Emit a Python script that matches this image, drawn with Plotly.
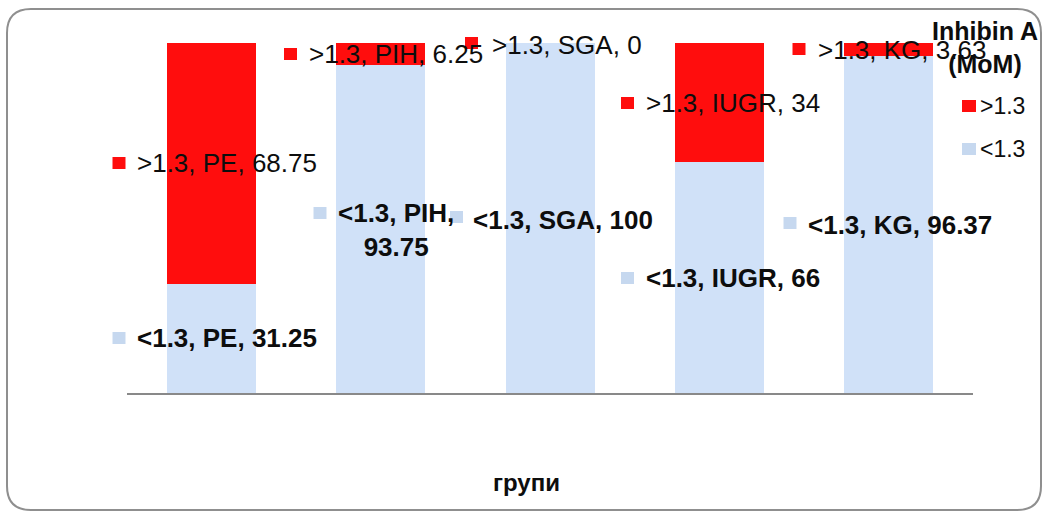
import plotly.graph_objects as go

# ---- data ----
categories = ["PE", "PIH", "SGA", "IUGR", "KG"]
below_13 = [31.25, 93.75, 100, 66, 96.37]
above_13 = [68.75, 6.25, 0, 34, 3.63]
series_names = ["<1.3", ">1.3"]
legend_title = "Inhibin A<br>(MoM)"
x_title = "групи"

# ---- layout constants (pixels) ----
W, H = 1044, 513
L, R, T, B = 127, 71, 43, 120
PW = W - L - R
PH = H - T - B
BASE_Y = H - B

RED = "#FF0D0D"
BLUE = "#D0E1F8"
BLUE_KEY = "#C6D8EF"
FONT = "Arial, 'Liberation Sans', sans-serif"
FS = 26
TXT = "#0d0d0d"

# label placements: (square cx, square cy, text x, text y, xanchor)
above_pos = [
    (119, 163, 137, 163, "left"),
    (290.5, 54, 309, 54, "left"),
    (471.5, 43, 492, 45, "left"),
    (627.5, 103, 646, 103, "left"),
    (799, 49, 818, 50, "left"),
]
below_pos = [
    (119, 338, 137, 338, "left"),
    (320, 213, 396, 230, "center"),
    (456.5, 217, 473, 220, "left"),
    (627.5, 278, 646, 278, "left"),
    (790, 223, 808, 225, "left"),
]


def esc(s):
    return s.replace("<", "&lt;").replace(">", "&gt;")


def cat_center(i):
    return L + PW * (i + 0.5) / len(categories)


fig = go.Figure()
fig.add_trace(go.Bar(x=categories, y=below_13, name=series_names[0],
                     marker=dict(color=BLUE, line=dict(width=0)),
                     showlegend=False, hoverinfo="x+y+name"))
fig.add_trace(go.Bar(x=categories, y=above_13, name=series_names[1],
                     marker=dict(color=RED, line=dict(width=0)),
                     showlegend=False, hoverinfo="x+y+name"))

annotations = []
shapes = []


def px_to_paper(px, py):
    return (px - L) / PW, (BASE_Y - py) / PH


def P(px, py):
    a, b = px_to_paper(px, py)
    return f"{a:.5f},{b:.5f}"


# rounded border around the chart
x0, x1, y0, y1, r = 7, 1041, 9, 510, 24
path = (f"M{P(x0 + r, y0)} L{P(x1 - r, y0)} Q{P(x1, y0)} {P(x1, y0 + r)} "
        f"L{P(x1, y1 - r)} Q{P(x1, y1)} {P(x1 - r, y1)} "
        f"L{P(x0 + r, y1)} Q{P(x0, y1)} {P(x0, y1 - r)} "
        f"L{P(x0, y0 + r)} Q{P(x0, y0)} {P(x0 + r, y0)} Z")
shapes.append(dict(type="path", xref="paper", yref="paper", path=path,
                   line=dict(color="#8f8f8f", width=2), layer="below"))


def add_label(i, name, val, pos, key_color, bold):
    sx, sy, tx, ty, xa = pos
    c = cat_center(i)
    a0, b0 = px_to_paper(sx - 6.5, sy + 6)
    a1, b1 = px_to_paper(sx + 6.5, sy - 6)
    shapes.append(dict(type="rect", xref="paper", yref="paper",
                       x0=a0, x1=a1, y0=b0, y1=b1,
                       fillcolor=key_color, line=dict(width=0), layer="above"))
    if xa == "center":
        txt = f"{esc(name)}, {categories[i]},<br>{val:g}"
    else:
        txt = f"{esc(name)}, {categories[i]}, {val:g}"
    if bold:
        txt = f"<b>{txt}</b>"
    annotations.append(dict(x=i, y=0, xref="x", yref="y",
                            xshift=(tx - c - (2 if xa == "left" else 0)),
                            yshift=BASE_Y - ty,
                            text=txt, showarrow=False, xanchor=xa,
                            yanchor="middle", align="center",
                            font=dict(family=FONT, size=FS, color=TXT)))


for i in range(len(categories)):
    add_label(i, series_names[1], above_13[i], above_pos[i], RED, False)
for i in range(len(categories)):
    add_label(i, series_names[0], below_13[i], below_pos[i], BLUE_KEY, True)

# manual legend
lx, ly = px_to_paper(985, 48)
annotations.append(dict(x=lx, y=ly, xref="paper", yref="paper",
                        text=f"<b>{legend_title}</b>", showarrow=False,
                        xanchor="center", yanchor="middle", align="center",
                        font=dict(family=FONT, size=25, color=TXT)))
for name, col, cy in [(series_names[1], RED, 106), (series_names[0], BLUE_KEY, 149)]:
    a0, b0 = px_to_paper(962, cy + 6)
    a1, b1 = px_to_paper(976, cy - 6)
    shapes.append(dict(type="rect", xref="paper", yref="paper",
                       x0=a0, x1=a1, y0=b0, y1=b1, fillcolor=col,
                       line=dict(width=0), layer="above"))
    tx, ty = px_to_paper(978, cy)
    annotations.append(dict(x=tx, y=ty, xref="paper", yref="paper",
                            text=esc(name), showarrow=False, xanchor="left",
                            yanchor="middle",
                            font=dict(family=FONT, size=23, color=TXT)))

# x-axis title
ax, ay = px_to_paper(526, 482)
annotations.append(dict(x=ax, y=ay, xref="paper", yref="paper",
                        text=f"<b>{x_title}</b>", showarrow=False,
                        xanchor="center", yanchor="middle",
                        font=dict(family=FONT, size=24, color=TXT)))

fig.update_layout(
    width=W, height=H,
    margin=dict(l=L, r=R, t=T, b=B, autoexpand=False),
    barmode="stack", bargap=0.474,
    paper_bgcolor="white", plot_bgcolor="white",
    showlegend=False,
    xaxis=dict(type="category", range=[-0.5, len(categories) - 0.5],
               autorange=False,
               showline=True, linecolor="#898989", linewidth=2,
               showticklabels=False, ticks="", showgrid=False, zeroline=False,
               fixedrange=True),
    yaxis=dict(range=[0, 100], autorange=False, visible=False,
               showgrid=False, fixedrange=True),
    annotations=annotations,
    shapes=shapes,
)

fig.write_html("out.html",
               config={"displayModeBar": False},
               post_script="document.body.style.margin='0';"
                           "document.body.style.overflow='hidden';")
